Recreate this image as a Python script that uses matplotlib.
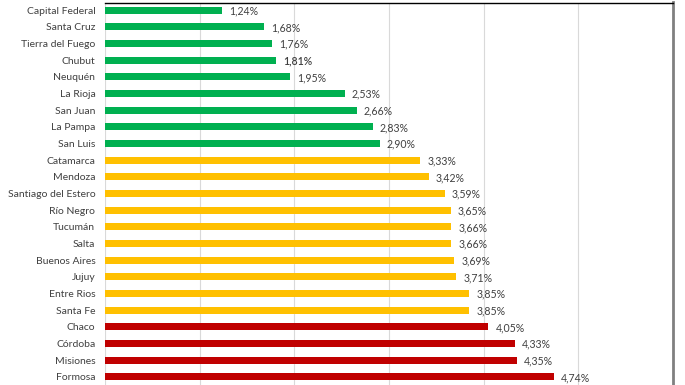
import matplotlib
matplotlib.use("Agg")
import matplotlib.pyplot as plt

provincias = ["Capital Federal", "Santa Cruz", "Tierra del Fuego", "Chubut", "Neuquén",
              "La Rioja", "San Juan", "La Pampa", "San Luis", "Catamarca", "Mendoza",
              "Santiago del Estero", "Río Negro", "Tucumán", "Salta", "Buenos Aires",
              "Jujuy", "Entre Rios", "Santa Fe", "Chaco", "Córdoba", "Misiones", "Formosa"]
valores = [1.24, 1.68, 1.76, 1.81, 1.95, 2.53, 2.66, 2.83, 2.90, 3.33, 3.42,
           3.59, 3.65, 3.66, 3.66, 3.69, 3.71, 3.85, 3.85, 4.05, 4.33, 4.35, 4.74]
grupo = ["verde"] * 9 + ["amarillo"] * 10 + ["rojo"] * 4

COLORES = {"verde": "#00B050", "amarillo": "#FFC000", "rojo": "#C00000"}

plt.rcParams["font.family"] = ["Lato", "DejaVu Sans"]

fig = plt.figure(figsize=(6.85, 3.85), dpi=100)
ax = fig.add_axes([105 / 685, 0.0, (673 - 105) / 685, 1 - 2.5 / 385])

pos = list(range(len(provincias)))
ax.barh(pos, valores, height=0.42, color=[COLORES[g] for g in grupo], zorder=3)

for y, v in zip(pos, valores):
    peso = "semibold" if provincias[y] == "Chubut" else "normal"
    ax.text(v + 0.075, y + 0.06, f"{v:.2f}%".replace(".", ","), va="center", ha="left",
            fontsize=7.6, color="#404040", fontweight=peso)

ax.set_xlim(0, 6)
ax.set_ylim(22.5, -0.45)
ax.set_xticks([0, 1, 2, 3, 4, 5, 6])
ax.xaxis.grid(True, color="#D9D9D9", linewidth=0.8, zorder=0)
ax.tick_params(axis="x", length=0, labelbottom=False)
ax.tick_params(axis="y", length=0, pad=7, labelsize=7.5, labelcolor="#404040")
ax.set_yticks(pos)
ax.set_yticklabels(provincias)

ax.spines["left"].set_visible(False)
ax.spines["bottom"].set_visible(False)
ax.spines["top"].set_color("black")
ax.spines["top"].set_linewidth(1)
ax.spines["right"].set_color("#808080")
ax.spines["right"].set_linewidth(2)

fig.savefig("out.png", dpi=100)
